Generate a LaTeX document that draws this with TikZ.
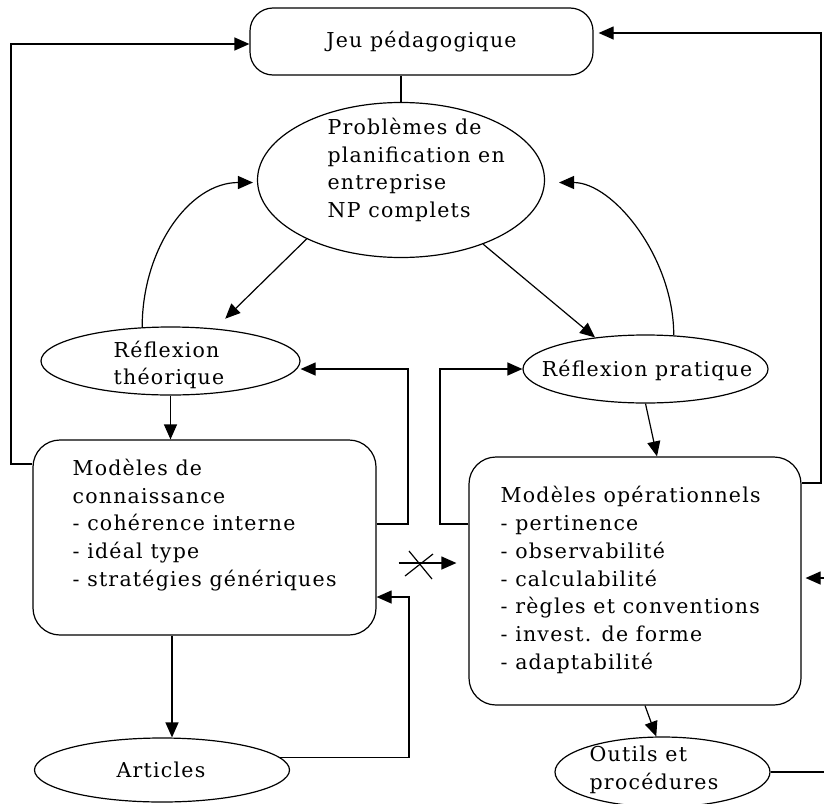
\documentclass[tikz,border=0pt]{standalone}
\usepackage{fontspec}
\setmainfont{DejaVu Serif}[LetterSpace=6]
\usetikzlibrary{shapes.geometric,arrows.meta,calc}
\begin{document}
\begin{tikzpicture}[x=1pt,y=-1pt,
  line width=1.2pt,
  every node/.style={font=\fontsize{20.5}{27.8}\selectfont},
  rbox/.style={draw, rounded corners=27pt, inner sep=0pt},
  ell/.style={draw, ellipse, inner sep=0pt},
  arr/.style={-{Triangle[length=15pt,width=13pt]}},
  txt/.style={align=left, inner sep=0pt, anchor=west},
]
\useasboundingbox (0,0) rectangle (824,803);

\node[rbox, rounded corners=23pt, minimum width=343pt, minimum height=67pt] (jeu) at (421.5,41.5) {Jeu pédagogique};

\node[ell, minimum width=287pt, minimum height=155pt] (prob) at (401,180) {};
\node[txt] (probtxt) at (327,170) {Problèmes de\\planification en\\entreprise\\NP complets};

\node[ell, minimum width=259pt, minimum height=68pt] (rt) at (170.5,361) {};
\node[align=left, inner sep=0pt] (rttxt) at (169,365) {Réflexion\\théorique};

\node[ell, minimum width=245pt, minimum height=68pt] (rp) at (645.5,369) {};
\node[inner sep=0pt] (rptxt) at (647,370) {Réflexion pratique};

\node[rbox, minimum width=343pt, minimum height=195pt] (mc) at (204.5,537.5) {};
\node[txt] (mctxt) at (72,525) {Modèles de\\connaissance\\- cohérence interne\\- idéal type\\- stratégies génériques};

\node[rbox, minimum width=332pt, minimum height=248pt] (mo) at (635,581) {};
\node[txt] (motxt) at (500,580) {Modèles opérationnels\\- pertinence\\- observabilité\\- calculabilité\\- règles et conventions\\- invest. de forme\\- adaptabilité};

\node[ell, minimum width=255pt, minimum height=64pt] (art) at (162,770) {};
\node[inner sep=0pt] (arttxt) at (161,770) {Articles};

\node[ell, minimum width=215pt, minimum height=70pt] (out) at (662.5,772) {};
\node[align=left, inner sep=0pt] (outtxt) at (654,770) {Outils et\\procédures};

% connectors
\draw (prob.north) -- (prob.north |- jeu.south);
\draw[arr, shorten >=14pt] (prob.212) -- (rt.36);
\draw[arr] (prob.322) -- (rp.148);
\draw[arr, shorten >=4pt] (rt.130) .. controls +(0,-78) and +(-68,0) .. (prob.181);
\draw[arr, shorten >=14pt] (rp.50) .. controls +(0,-78) and +(68,0) .. (prob.359);
\draw[arr] (rt.south) -- (rt.south |- mc.north);
\draw[arr] (rp.south) -- (657,0 |- mo.north);
\draw[arr] (mc.east |- 0,524) -| (408,369) -- (rt.east |- 0,369);
\draw[arr] (mo.west |- 0,524) -| (440,369) -- (rp.west);
\draw[arr] (mc.west |- 0,464) -| (11,44) -- (jeu.west |- 0,44);
\draw[arr, shorten >=5pt] (mo.east |- 0,483) -| (821,33) -- (jeu.east |- 0,33);
\draw[arr, shorten <=22pt, shorten >=12pt] (mc.east |- 0,563) -- (mo.west |- 0,563);
\coordinate (xc) at (420,564);
\draw (xc) ++(-11,-13) -- ++(23,28);
\draw (xc) ++(13,-10) -- ++(-28,22);
\draw[arr] (172,0 |- mc.south) -- (172,0 |- art.north);
\draw[arr] (art.6) -| (409,597) -- (mc.east |- 0,597);
\draw[arr] (mo.south -| 645,0) -- (out.100);
\coordinate (edgeA) at (824,772);
\coordinate (edgeB) at (824,578);
\draw (out.east) -- (edgeA);
\draw[arr, shorten >=4pt] (edgeB) -- (mo.east |- edgeB);
\end{tikzpicture}
\end{document}
